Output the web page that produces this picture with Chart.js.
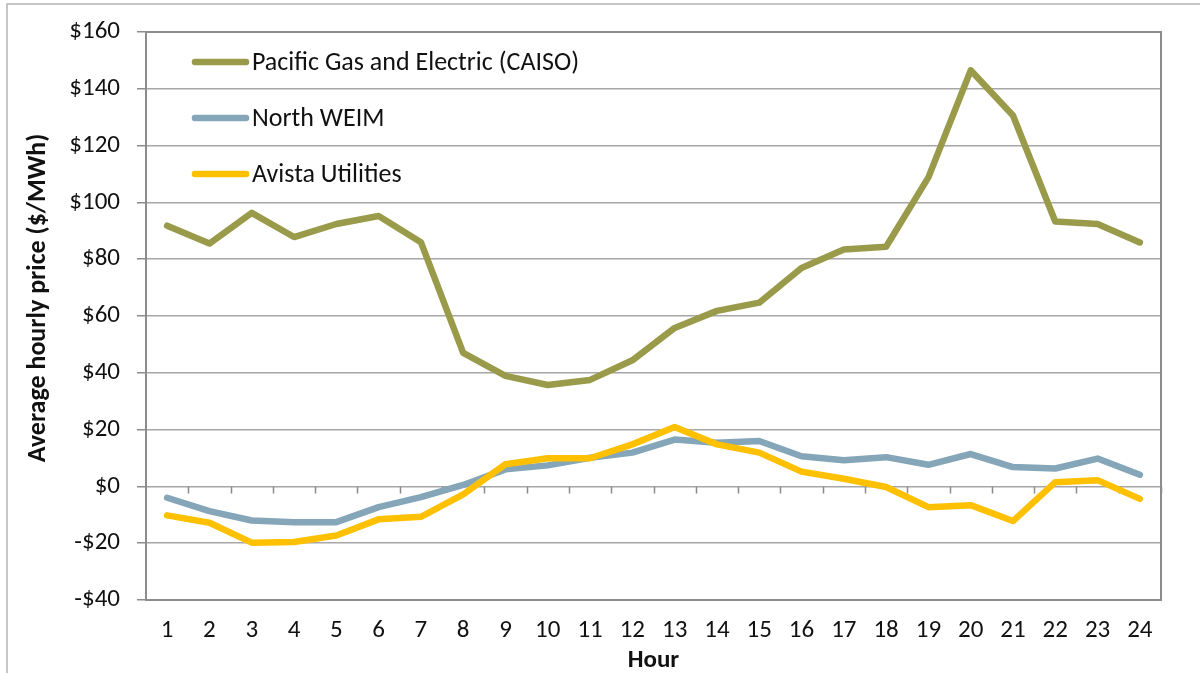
<!DOCTYPE html>
<html>
<head>
<meta charset="utf-8">
<script src="https://cdn.jsdelivr.net/npm/chart.js@4.4.1/dist/chart.umd.min.js"></script>
<style>
  html, body { margin: 0; padding: 0; background: #fff; }
  #wrap { position: relative; width: 1200px; height: 673px; }
  canvas { display: block; }
</style>
</head>
<body>
<div id="wrap"><canvas id="c" width="1200" height="673"></canvas></div>
<script>
const hours = ['1','2','3','4','5','6','7','8','9','10','11','12','13','14','15','16','17','18','19','20','21','22','23','24'];
const pge = [91.8, 85.5, 96.3, 87.8, 92.4, 95.2, 86.0, 47.0, 38.9, 35.7, 37.5, 44.4, 55.8, 61.8, 64.7, 76.9, 83.4, 84.4, 108.8, 146.5, 130.6, 93.3, 92.4, 85.9];
const weim = [-4.0, -8.7, -12.0, -12.6, -12.6, -7.3, -3.8, 0.5, 6.0, 7.4, 10.1, 11.9, 16.5, 15.4, 16.0, 10.6, 9.2, 10.3, 7.6, 11.4, 6.8, 6.3, 9.8, 4.1];
const avista = [-10.2, -12.8, -19.8, -19.6, -17.3, -11.6, -10.7, -2.8, 7.8, 9.9, 9.9, 14.8, 20.9, 14.8, 11.9, 5.2, 2.7, -0.2, -7.3, -6.6, -12.2, 1.5, 2.2, -4.4];
const seriesNames = ['Pacific Gas and Electric (CAISO)', 'North WEIM', 'Avista Utilities'];
const seriesColors = ['#9A9B4A', '#84A6B8', '#FFC000'];
const yTicks = [-40, -20, 0, 20, 40, 60, 80, 100, 120, 140, 160];
const yTitle = 'Average hourly price ($/MWh)';
const xTitle = 'Hour';

const FONT = "Carlito, Calibri, Lato, 'Open Sans', sans-serif";

const frame = {
  id: 'frame',
  beforeDraw(chart) {
    const ctx = chart.ctx;
    ctx.save();
    ctx.fillStyle = '#fff';
    ctx.fillRect(0, 0, chart.width, chart.height);
    ctx.strokeStyle = '#b4b4b4';
    ctx.lineWidth = 1.5;
    ctx.beginPath();
    ctx.moveTo(7, 673);
    ctx.lineTo(7, 4);
    ctx.lineTo(1200, 4);
    ctx.stroke();
    ctx.restore();
  },
  beforeDatasetsDraw(chart) {
    const ctx = chart.ctx;
    const a = chart.chartArea;
    const y = chart.scales.y;
    const y0 = y.getPixelForValue(0);
    ctx.save();
    ctx.strokeStyle = '#8c8c8c';
    ctx.lineWidth = 1.5;
    ctx.beginPath();
    const n = hours.length;
    const w = (a.right - a.left) / n;
    for (let i = 1; i <= n; i++) {
      const px = Math.round(a.left + i * w) + 0.5;
      ctx.moveTo(px, y0);
      ctx.lineTo(px, y0 + 7);
    }
    ctx.stroke();
    ctx.lineWidth = 2;
    ctx.strokeRect(a.left, a.top, a.right - a.left, a.bottom - a.top);
    ctx.restore();
  },
  afterDraw(chart) {
    const ctx = chart.ctx;
    ctx.save();
    ctx.font = "26px " + FONT;
    ctx.textBaseline = 'middle';
    ctx.lineCap = 'round';
    const rows = [62, 118, 174];
    chart.data.datasets.forEach((ds, i) => {
      ctx.strokeStyle = ds.borderColor;
      ctx.lineWidth = 6.5;
      ctx.beginPath();
      ctx.moveTo(195, rows[i]);
      ctx.lineTo(246, rows[i]);
      ctx.stroke();
      ctx.fillStyle = '#111';
      ctx.fillText(ds.label, 252, rows[i] + 1);
    });
    ctx.font = "bold 26px " + FONT;
    ctx.textAlign = 'center';
    ctx.translate(38, 298);
    ctx.rotate(-Math.PI / 2);
    ctx.fillText(yTitle, 0, 0);
    ctx.restore();
  }
};

new Chart(document.getElementById('c'), {
  type: 'line',
  data: {
    labels: hours,
    datasets: [
      { label: seriesNames[0], data: pge, borderColor: seriesColors[0], backgroundColor: seriesColors[0], order: 2 },
      { label: seriesNames[1], data: weim, borderColor: seriesColors[1], backgroundColor: seriesColors[1], order: 1 },
      { label: seriesNames[2], data: avista, borderColor: seriesColors[2], backgroundColor: seriesColors[2], order: 0 }
    ]
  },
  options: {
    responsive: false,
    animation: false,
    devicePixelRatio: 1,
    layout: { padding: { left: 8, right: 39, top: 32, bottom: 0 } },
    elements: {
      line: { borderWidth: 6.5, tension: 0, borderCapStyle: 'round', borderJoinStyle: 'round' },
      point: { radius: 0, hoverRadius: 0 }
    },
    plugins: {
      legend: { display: false },
      tooltip: { enabled: false }
    },
    scales: {
      x: {
        type: 'category',
        offset: true,
        grid: { display: false, drawTicks: false },
        border: { display: false },
        ticks: { color: '#111', font: { family: FONT, size: 25, lineHeight: 1 }, padding: 18, maxRotation: 0, autoSkip: false },
        title: { display: true, text: xTitle, color: '#111', font: { family: FONT, size: 25, weight: 'bold', lineHeight: 1 }, padding: { top: 0, bottom: 0 } },
        afterFit(s) { s.height = 73; }
      },
      y: {
        min: -40, max: 160,
        afterBuildTicks(s) { s.ticks = yTicks.map(v => ({ value: v })); },
        grid: { color: '#a6a6a6', lineWidth: 1.5, tickLength: 9, tickColor: '#8c8c8c' },
        border: { display: false },
        ticks: {
          color: '#111', font: { family: FONT, size: 25 }, padding: 17,
          callback: v => (v < 0 ? '-$' + Math.abs(v) : '$' + v)
        },
        title: { display: false },
        afterFit(s) { s.width = 138; }
      }
    }
  },
  plugins: [frame]
});
</script>
</body>
</html>
